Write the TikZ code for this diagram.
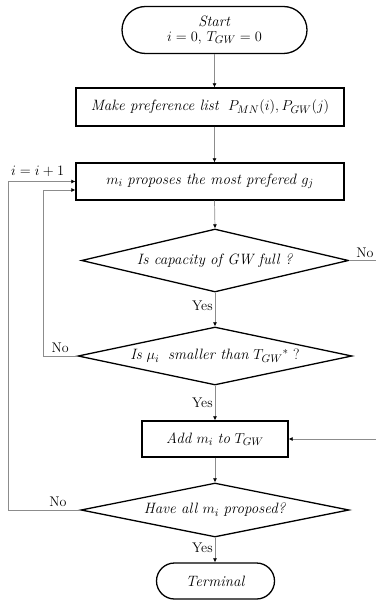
\documentclass[tikz,border=0pt]{standalone}
\usepackage{amsmath}
\usetikzlibrary{arrows.meta,shapes.geometric,shapes.misc}

\tikzset{
  term/.style={rounded rectangle, draw, line width=1.3pt, align=center, inner sep=0pt},
  proc/.style={rectangle, draw, line width=1.3pt, inner sep=0pt},
  decide/.style={diamond, draw, line width=1.3pt, inner sep=0pt},
  flow/.style={draw=black!45, line width=0.7pt, -{Latex[black,length=4pt,width=4pt]}},
  link/.style={draw=black!45, line width=0.7pt},
  ans/.style={font=\fontsize{14}{16}\selectfont, inner sep=2pt}
}

\begin{document}
\begin{tikzpicture}[x=1pt, y=-1pt, font=\fontsize{15}{17}\selectfont]
  \useasboundingbox (0,0) rectangle (375,601);

  % nodes
  \node[term, minimum width=185pt, minimum height=47pt] (start) at (214.5,30)
    {\textit{Start}\\[-2pt] $i = 0,\, T_{GW} = 0$};
  \node[proc, minimum width=268pt, minimum height=38pt] (pref) at (210,107)
    {\textit{Make preference list}\; $P_{MN}(i), P_{GW}(j)$};
  \node[proc, minimum width=268pt, minimum height=37pt] (prop) at (210,181.5)
    {$m_i$ \textit{proposes the most prefered} $g_j$};
  \node[decide, aspect=4.24, minimum width=267pt, minimum height=63pt] (cap) at (215,260.5)
    {\textit{Is capacity of GW full ?}};
  \node[decide, aspect=4.72, minimum width=274pt, minimum height=58pt] (small) at (215,356)
    {\textit{Is} $\mu_i$\; \textit{smaller than} $T_{GW}{}^{*}$ ?};
  \node[proc, minimum width=146pt, minimum height=36pt] (add) at (215,439)
    {\textit{Add} $m_i$ \textit{to} $T_{GW}$};
  \node[decide, aspect=4.96, minimum width=268pt, minimum height=54pt] (all) at (215,510)
    {\textit{Have all} $m_i$ \textit{proposed?}};
  \node[term, minimum width=118pt, minimum height=36pt] (stop) at (215.5,581)
    {\textit{Terminal}};

  \coordinate (rightedge) at (378,0);
  \coordinate (loopA) at (43,0);
  \coordinate (loopB) at (8,0);
  \coordinate (lowin) at ([yshift=-8.5pt]prop.west);

  % main flow
  \draw[flow] (start.south) -- (start.south |- pref.north);
  \draw[flow] (start.south |- pref.south) -- (start.south |- prop.north);
  \draw[flow] (start.south |- prop.south) -- (cap.north);
  \draw[flow] (cap.south) -- node[ans, left, pos=0.4] {Yes} (small.north);
  \draw[flow] (small.south) -- node[ans, left, pos=0.5] {Yes} (add.north);
  \draw[flow] (add.south) -- (add.south |- all.north);
  \draw[flow] (all.south) -- node[ans, left, pos=0.4] {Yes} (all.south |- stop.north);

  % loops
  \draw[link] (cap.east) -- node[ans, above=1pt, pos=0.55] {No} (rightedge |- cap.east);
  \draw[flow] (rightedge |- add.east) -- (add.east);
  \draw[flow] (small.west) -- node[ans, above=1pt] {No} (loopA |- small.west)
    -- (loopA |- lowin) -- (lowin);
  \draw[flow] (all.west) -- node[ans, above=1pt, pos=0.31] {No} (loopB |- all.west)
    -- (loopB |- prop.west) -- node[ans, above=3pt, pos=0.44] {$i = i + 1$} (prop.west);
\end{tikzpicture}
\end{document}
